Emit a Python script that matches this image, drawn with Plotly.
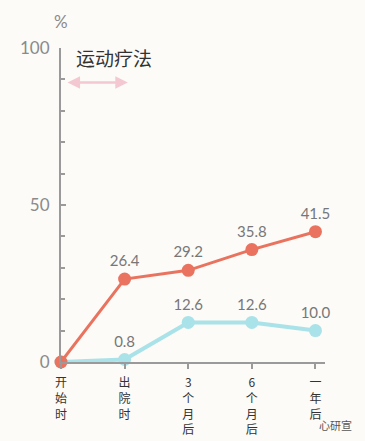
import plotly.graph_objects as go

categories = ["开始时", "出院时", "3个月后", "6个月后", "一年后"]
exercise = [0, 26.4, 29.2, 35.8, 41.5]
control = [0, 0.8, 12.6, 12.6, 10.0]
exercise_labels = ["", "26.4", "29.2", "35.8", "41.5"]
control_labels = ["", "0.8", "12.6", "12.6", "10.0"]
y_tickvals = [0, 50, 100]
y_ticktext = ["0", "50", "100"]

RED = "#E9735F"
CYAN = "#A9E2E8"
GRAY = "#8A8A8A"
xpos = list(range(len(categories)))

fig = go.Figure()
fig.add_trace(go.Scatter(
    x=xpos, y=control, mode="lines+markers+text",
    line=dict(color=CYAN, width=4),
    marker=dict(color=CYAN, size=13),
    text=control_labels, textposition="top center",
    textfont=dict(size=15, color="#777777", family="Lato, sans-serif"),
    cliponaxis=False, showlegend=False))
fig.add_trace(go.Scatter(
    x=xpos, y=exercise, mode="lines+markers+text",
    line=dict(color=RED, width=3),
    marker=dict(color=RED, size=13),
    text=exercise_labels, textposition="top center",
    textfont=dict(size=15, color="#777777", family="Lato, sans-serif"),
    cliponaxis=False, showlegend=False))

fig.update_layout(
    width=365, height=441,
    margin=dict(l=61, r=40, t=48, b=79),
    paper_bgcolor="#FCFBF7", plot_bgcolor="#FCFBF7",
    font=dict(family="Noto Sans CJK SC, sans-serif", color=GRAY),
    xaxis=dict(
        range=[0, 4.15], showgrid=False, zeroline=False, automargin=False,
        showline=True, linecolor="#9A9A9A", linewidth=2,
        tickvals=xpos, ticktext=["<br>".join(list(c)) for c in categories],
        ticks="outside", ticklen=5, tickcolor="#9A9A9A", tickwidth=1.5,
        tickfont=dict(size=12, color="#333333", family="Noto Sans CJK SC"),
        ticklabelstandoff=4,
    ),
    yaxis=dict(
        range=[0, 100], showgrid=False, zeroline=False, automargin=False,
        showline=True, linecolor="#9A9A9A", linewidth=2,
        tickvals=y_tickvals, ticktext=y_ticktext,
        ticks="inside", ticklen=5, tickcolor="#9A9A9A", tickwidth=1.5,
        tickfont=dict(size=17, color=GRAY, family="Lato, sans-serif"),
        ticklabelstandoff=6,
        minor=dict(dtick=10, ticks="inside", ticklen=4, tickcolor="#9A9A9A", tickwidth=1.5),
    ),
    annotations=[
        dict(text="%", xref="paper", yref="paper", x=0, y=1, xanchor="center", yanchor="bottom",
             yshift=14, showarrow=False, font=dict(size=17, color=GRAY, family="Lato, sans-serif")),
        dict(text="运动疗法", xref="x", yref="y", x=0.2, y=97, xanchor="left", yanchor="middle",
             showarrow=False, font=dict(size=19, color="#333333", family="Noto Sans CJK SC")),
        dict(x=1.05, y=89, ax=0.08, ay=89, xref="x", yref="y", axref="x", ayref="y",
             text="", showarrow=True, arrowhead=2, arrowside="end+start", arrowsize=1,
             arrowwidth=2.5, arrowcolor="#F4C8D0"),
        dict(text="心研宣", xref="paper", yref="paper", x=1.11, y=-0.2, xanchor="right",
             yanchor="middle", showarrow=False, font=dict(size=11, color="#555555")),
    ],
)

fig.write_html("out.html", config={"displayModeBar": False},
               post_script="document.body.style.margin='0';document.body.style.overflow='hidden';")
